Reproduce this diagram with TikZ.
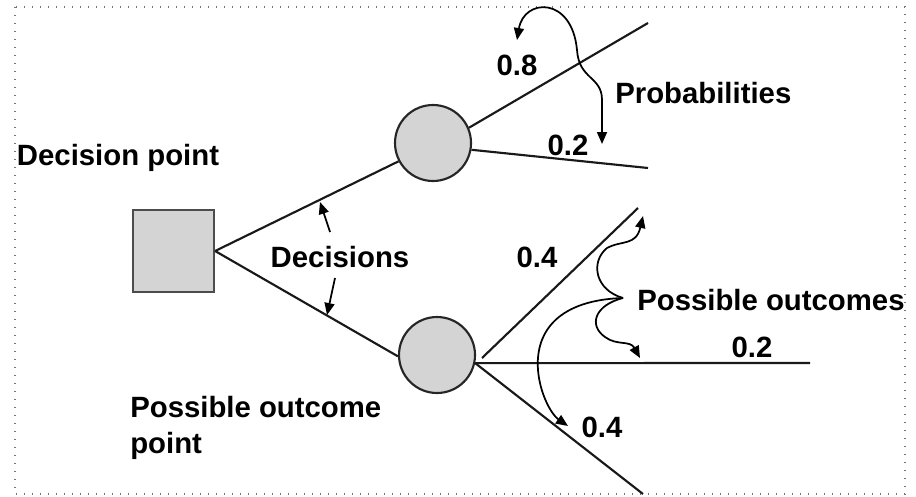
\documentclass[tikz,border=0pt]{standalone}
\usepackage{fontspec}
\setmainfont{Liberation Sans}
\usetikzlibrary{arrows.meta}
\begin{document}
\begin{tikzpicture}[x=0.75pt,y=-0.75pt,
  lbl/.style={font=\fontsize{22}{26}\selectfont\bfseries, inner sep=0pt, text height=15.8pt, text depth=0pt},
  branch/.style={line width=1.6pt, black!90},
  chance/.style={circle, draw=black!85, line width=1.6pt, fill=black!17, minimum size=57pt, inner sep=0pt},
  decbox/.style={draw=black!70, line width=1.4pt, fill=black!17, minimum size=61pt, inner sep=0pt},
  pointer/.style={line width=1.3pt, black, -{Triangle[length=9pt,width=7.5pt]}},
  pointers/.style={line width=1.3pt, black, {Triangle[length=9pt,width=7.5pt]}-{Triangle[length=9pt,width=7.5pt]}},
  frame/.style={line width=1.1pt, black!55, dash pattern=on 1.1pt off 4.9pt}]
\useasboundingbox (0,0) rectangle (916,496);
\draw[frame] (15,7) rectangle (905,494);

% nodes
\node[decbox] (dp) at (173.5,251) {};
\node[chance] (c1) at (433,143) {};
\node[chance] (c2) at (437,355) {};

% branch end points
\coordinate (e1) at (648,23);
\coordinate (e2) at (648,168);
\coordinate (o2a) at (482,358);
\coordinate (e3) at (638,208);
\coordinate (e4) at (810,363);
\coordinate (e5) at (643,494);

% branches
\draw[branch] (dp.east) -- (c1.208);
\draw[branch] (dp.east) -- (c2.182);
\draw[branch] (c1.23) -- (e1);
\draw[branch] (c1.-10) -- (e2);
\draw[branch] (o2a) -- (e3);
\draw[branch] (c2.-12) -- (e4);
\draw[branch] (c2.-12) -- (e5);

% labels
\node[lbl] (tdp) at (118,155) {Decision point};
\node[lbl] (tdec) at (340,257) {Decisions};
\node[lbl, anchor=base west] (tpo1) at (130,417) {Possible outcome};
\node[lbl, anchor=base west] (tpo2) at (130,453) {point};
\node[lbl] (t08) at (517,65) {0.8};
\node[lbl, anchor=west] (tprob) at (615,93) {Probabilities};
\node[lbl] (t02a) at (568,145) {0.2};
\node[lbl] (t04a) at (537,257) {0.4};
\node[lbl, anchor=west] (tpo) at (637,300) {Possible outcomes};
\node[lbl] (t02b) at (752,347) {0.2};
\node[lbl] (t04b) at (602,427) {0.4};

% decision pointers
\coordinate (d1s) at (330,232);
\coordinate (d1t) at (320,202);
\coordinate (d2s) at (335,278);
\coordinate (d2t) at (327,315);
\draw[pointer] (d1s) -- (d1t);
\draw[pointer] (d2s) -- (d2t);

% probabilities pointer
\coordinate (p1) at (517,40);
\coordinate (p2) at (577,50);
\coordinate (p3) at (602,100);
\coordinate (p4) at (602,144);
\draw[pointers] (p1) .. controls (524,-2) and (572,-4) .. (p2)
  .. controls (579,80) and (602,76) .. (p3) -- (p4);

% possible outcomes pointers
\coordinate (b0) at (623,298);
\coordinate (b1) at (607,248);
\coordinate (b1t) at (643,216);
\coordinate (b2) at (605,337);
\coordinate (b2t) at (640,358);
\coordinate (b3) at (538,370);
\coordinate (b3t) at (568,426);
\draw[pointer] (b0) .. controls (595,290) and (590,262) .. (b1)
  .. controls (622,240) and (636,246) .. (b1t);
\draw[pointer] (b0) .. controls (595,305) and (588,325) .. (b2)
  .. controls (617,346) and (630,340) .. (b2t);
\draw[pointer] (b0) .. controls (560,300) and (535,330) .. (b3)
  .. controls (540,395) and (552,415) .. (b3t);
\end{tikzpicture}
\end{document}
